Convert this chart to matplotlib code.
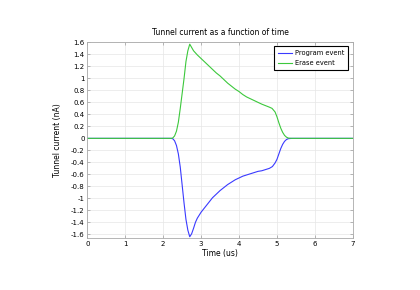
import matplotlib
matplotlib.use("Agg")
import matplotlib.pyplot as plt

# time (us) and tunnel current (nA)
t_program = [0.0, 2.2, 2.25, 2.3, 2.35, 2.4, 2.45, 2.5, 2.55, 2.6, 2.65, 2.7,
             2.75, 2.8, 2.85, 2.9, 3.0, 3.1, 3.2, 3.3, 3.4, 3.5, 3.6, 3.7, 3.8,
             3.9, 4.0, 4.1, 4.2, 4.3, 4.4, 4.5, 4.6, 4.7, 4.8, 4.88, 4.95, 5.0,
             5.05, 5.1, 5.15, 5.2, 5.25, 5.3, 5.4, 7.0]
i_program = [0.0, 0.0, -0.005, -0.04, -0.12, -0.26, -0.48, -0.78, -1.08, -1.35,
             -1.53, -1.64, -1.59, -1.50, -1.40, -1.33, -1.23, -1.15, -1.07,
             -0.99, -0.93, -0.87, -0.82, -0.77, -0.73, -0.69, -0.66, -0.63,
             -0.61, -0.59, -0.57, -0.55, -0.54, -0.52, -0.50, -0.47, -0.41,
             -0.35, -0.26, -0.17, -0.10, -0.05, -0.02, -0.005, 0.0, 0.0]

t_erase = [0.0, 2.2, 2.25, 2.3, 2.35, 2.4, 2.45, 2.5, 2.55, 2.6, 2.65, 2.7,
           2.8, 2.9, 3.0, 3.1, 3.2, 3.3, 3.4, 3.5, 3.6, 3.7, 3.8, 3.9, 4.0,
           4.1, 4.2, 4.3, 4.4, 4.5, 4.6, 4.7, 4.8, 4.87, 4.95, 5.0, 5.05, 5.1,
           5.15, 5.2, 5.25, 5.3, 5.4, 7.0]
i_erase = [0.0, 0.0, 0.005, 0.04, 0.12, 0.27, 0.50, 0.75, 1.0, 1.28, 1.46, 1.57,
           1.46, 1.39, 1.33, 1.27, 1.21, 1.15, 1.09, 1.04, 0.98, 0.92, 0.87,
           0.82, 0.78, 0.73, 0.69, 0.66, 0.63, 0.60, 0.57, 0.545, 0.52, 0.50,
           0.44, 0.36, 0.26, 0.17, 0.10, 0.05, 0.02, 0.005, 0.0, 0.0]

x_ticks = [0, 1, 2, 3, 4, 5, 6, 7]
y_ticks = [-1.6, -1.4, -1.2, -1, -0.8, -0.6, -0.4, -0.2, 0, 0.2, 0.4, 0.6,
           0.8, 1, 1.2, 1.4, 1.6]
y_labels = ["%g" % v for v in y_ticks]

plt.rcParams["font.family"] = ["DejaVu Sans"]

fig = plt.figure(figsize=(4.2, 2.9), dpi=100)
ax = fig.add_axes([0.208, 0.178, 0.632, 0.678])

ax.plot(t_program, i_program, color="#3a3aff", lw=0.8, label="Program event")
ax.plot(t_erase, i_erase, color="#3cc83c", lw=0.8, label="Erase event")

ax.set_xlim(0, 7)
ax.set_ylim(-1.667, 1.61)
ax.set_xticks(x_ticks)
ax.set_yticks(y_ticks)
ax.set_yticklabels(y_labels)
ax.tick_params(labelsize=5, direction="in", length=2, width=0.4,
               top=True, right=True, pad=2, color="#888888")
ax.grid(True, color="#e6e6e6", lw=0.5)
ax.set_axisbelow(True)
for s in ax.spines.values():
    s.set_color("#aaaaaa")
    s.set_linewidth(0.6)

ax.set_title("Tunnel current as a function of time", fontsize=5.5, pad=5)
ax.set_xlabel("Time (us)", fontsize=5.5, labelpad=1)
ax.set_ylabel("Tunnel current (nA)", fontsize=5.5, labelpad=6)

leg = ax.legend(loc="upper right", fontsize=4.8, fancybox=False,
                edgecolor="black", framealpha=1, handlelength=2.2,
                handletextpad=0.4, borderaxespad=0.7, borderpad=0.55,
                labelspacing=0.6)
leg.get_frame().set_linewidth(0.8)

fig.savefig("out.png", dpi=100)
